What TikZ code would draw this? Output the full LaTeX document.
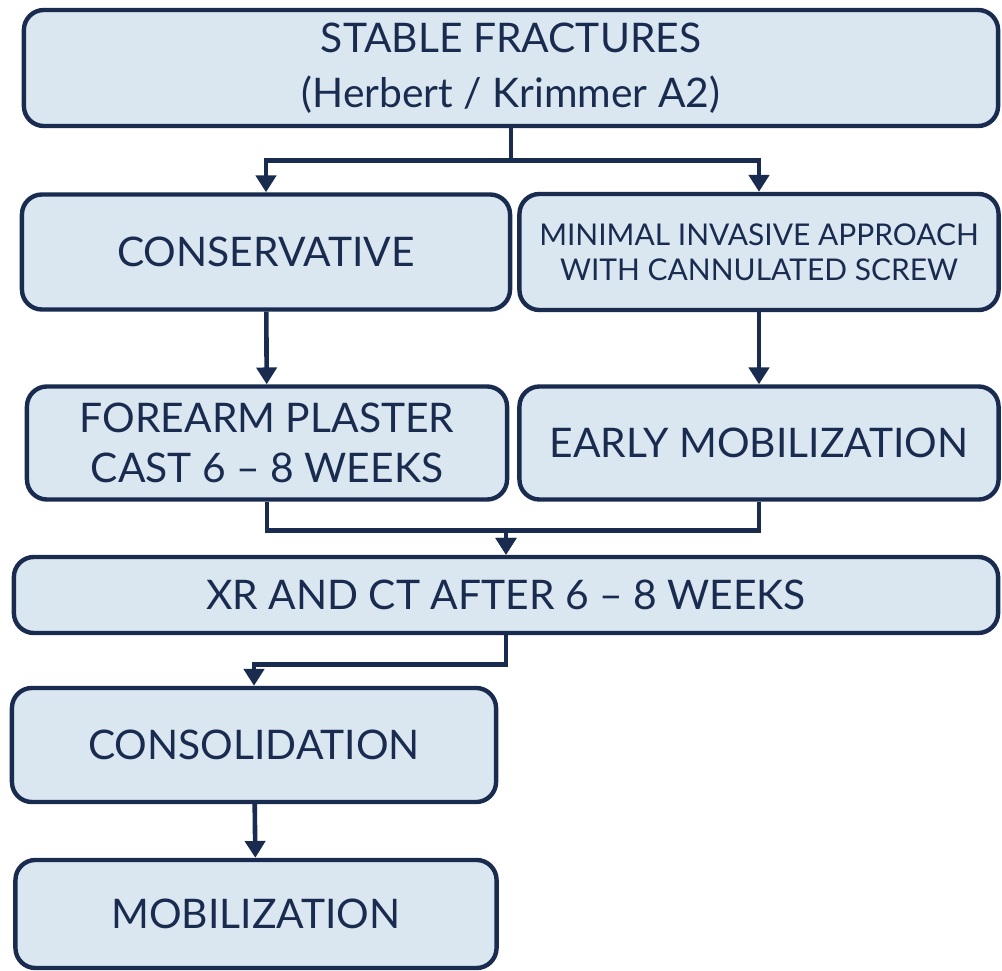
\documentclass[tikz,border=0pt]{standalone}
\usepackage{fontspec}
\setmainfont{Lato}
\usetikzlibrary{arrows.meta}
\definecolor{navy}{HTML}{1A2B50}
\definecolor{paleblue}{HTML}{DAE7F1}
\tikzstyle{box} = [rectangle, rounded corners=0.5cm, draw=navy, line width=0.11cm, fill=paleblue, text=navy, align=center, font=\fontsize{29}{39}\selectfont]
\tikzstyle{smallbox} = [box, font=\fontsize{21.3}{25}\selectfont]
\tikzstyle{arrow} = [draw=navy, line width=0.115cm, ->, >={Triangle[width=0.5cm, length=0.42cm]}]

\begin{document}
\begin{tikzpicture}[x=0.025cm, y=-0.025cm]
\useasboundingbox (0,0) rectangle (1002,971);

\node (stable) [box, minimum width=24.35cm, minimum height=2.9cm] at (511,68) {STABLE FRACTURES\\(Herbert / Krimmer A2)};
\node (cons) [box, minimum width=12.2cm, minimum height=2.875cm] at (266,252) {CONSERVATIVE};
\node (mini) [smallbox, minimum width=11.975cm, minimum height=2.9cm] at (759,252) {MINIMAL INVASIVE APPROACH\\WITH CANNULATED SCREW};
\node (fore) [box, minimum width=12cm, minimum height=2.825cm, font=\fontsize{29}{35.5}\selectfont] at (267,443) {FOREARM PLASTER\\CAST 6 -- 8 WEEKS};
\node (early) [box, minimum width=11.975cm, minimum height=2.825cm] at (759,443) {EARLY MOBILIZATION};
\node (xr) [box, minimum width=24.6cm, minimum height=1.9cm] at (506,595) {XR AND CT AFTER 6 -- 8 WEEKS};
\node (consol) [box, minimum width=12.1cm, minimum height=2.85cm] at (254,745) {CONSOLIDATION};
\node (mob) [box, minimum width=12.025cm, minimum height=2.7cm] at (256,914) {MOBILIZATION};

\draw [arrow] (stable.south) -- ++(0,32) -| (cons.north);
\draw [arrow] (stable.south) -- ++(0,32) -| (mini.north);

\draw [arrow] (cons) -- (fore);
\draw [arrow] (mini) -- (early);

\draw [arrow] (fore.south) -- ++(0,29) -| (xr.north);
\draw [arrow] (early.south) -- ++(0,29) -| (xr.north);

\draw [arrow] (xr.south) -- ++(0,29) -| (consol.north);
\draw [arrow] (consol) -- (mob);

\end{tikzpicture}
\end{document}
